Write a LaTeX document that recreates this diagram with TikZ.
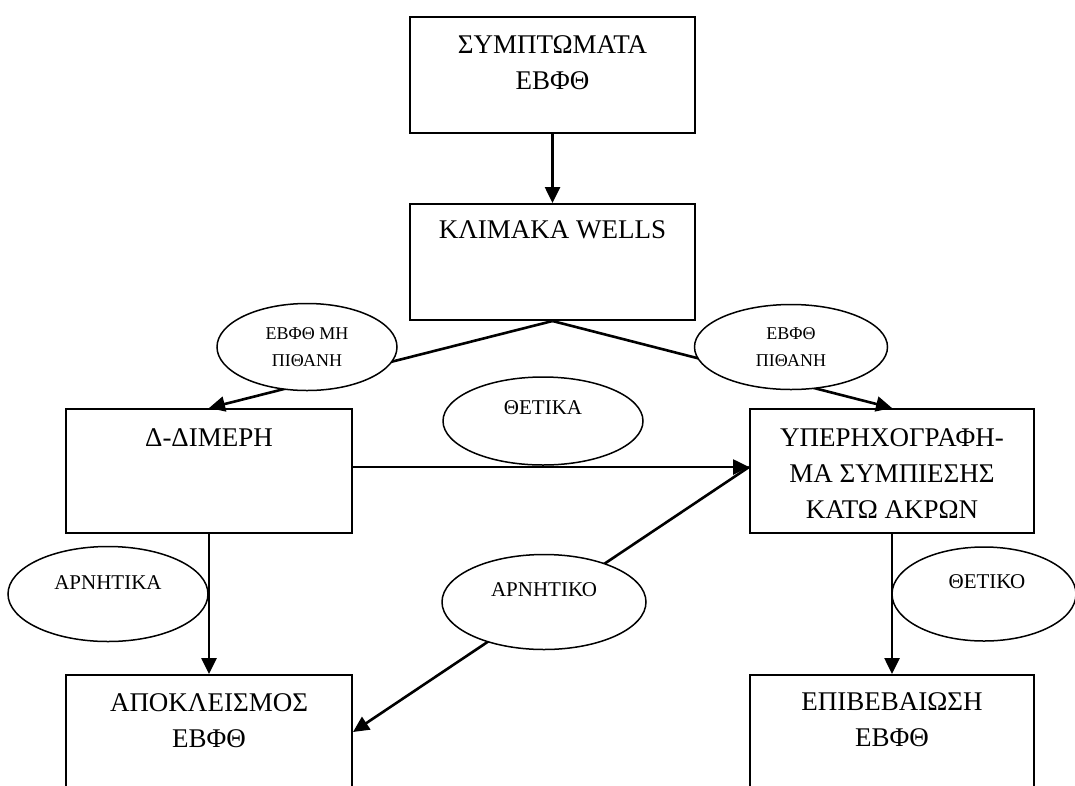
\documentclass[tikz,border=0pt]{standalone}
\usepackage{fontspec}
\setmainfont{Liberation Serif}
\usetikzlibrary{arrows.meta,shapes.geometric}
\tikzset{
  boxn/.style={draw=black, line width=2pt, rectangle, inner sep=0pt},
  boxtxt/.style={anchor=north, inner sep=0pt, align=center, font=\fontsize{27}{36}\selectfont},
  elln/.style={draw=black, line width=1.5pt, ellipse, inner sep=0pt},
  ellw/.style={elln, fill=white},
  elltxt/.style={inner sep=0pt, align=center, font=\fontsize{21}{26}\selectfont},
  elltxts/.style={inner sep=0pt, align=center, font=\fontsize{18}{27}\selectfont},
  conn/.style={line width=2.6pt, -{Triangle[length=16pt,width=15pt]}},
}
\begin{document}
\begin{tikzpicture}[x=1pt,y=-1pt]
\path[use as bounding box] (0,0) rectangle (1075,785);
\clip (0,0) rectangle (1075,785);
\fill[white] (0,0) rectangle (1075,785);

% boxes
\node[boxn, minimum width=285pt, minimum height=116pt] (b1) at (552.5,75) {};
\node[boxn, minimum width=285pt, minimum height=116pt] (b2) at (552.5,262) {};
\node[boxn, minimum width=286pt, minimum height=124pt] (b3) at (209,471) {};
\node[boxn, minimum width=284pt, minimum height=124pt] (b4) at (892,471) {};
\node[boxn, minimum width=286pt, minimum height=124pt] (b5) at (209,737) {};
\node[boxn, minimum width=284pt, minimum height=124pt] (b6) at (892,737) {};

% box texts
\node[boxtxt] (t1) at (552.5,35.5) {ΣΥΜΠΤΩΜΑΤΑ\\ΕΒΦΘ};
\node[boxtxt] (t2) at (552.5,220.5) {ΚΛΙΜΑΚΑ WELLS};
\node[boxtxt] (t3) at (209,428.5) {Δ-ΔΙΜΕΡΗ};
\node[boxtxt] (t4) at (892,428.5) {ΥΠΕΡΗΧΟΓΡΑΦΗ-\\ΜΑ ΣΥΜΠΙΕΣΗΣ\\ΚΑΤΩ ΑΚΡΩΝ};
\node[boxtxt] (t5) at (209,693.5) {ΑΠΟΚΛΕΙΣΜΟΣ\\ΕΒΦΘ};
\node[boxtxt] (t6) at (892,692.5) {ΕΠΙΒΕΒΑΙΩΣΗ\\ΕΒΦΘ};

% unfilled ellipses (beside lines)
\node[elln, minimum width=200pt, minimum height=88pt] (e3) at (543,421) {};
\node[elln, minimum width=200pt, minimum height=95pt] (e4) at (108,594) {};
\node[elln, minimum width=184pt, minimum height=94pt] (e6) at (984,594) {};

% connectors
\draw[conn] (b1.south) -- (b2.north);
\draw[conn] (b2.south) -- (b3.north);
\draw[conn] (b2.south) -- (b4.north);
\draw[conn] ([yshift=4pt]b3.east) -- ([yshift=4pt]b4.west);
\draw[conn] ([yshift=4pt]b4.west) -- ([yshift=5pt]b5.east);
\draw[conn] (b3.south) -- (b5.north);
\draw[conn] (b4.south) -- (b6.north);

% filled ellipses (over lines)
\node[ellw, minimum width=180pt, minimum height=87pt] (e1) at (307,347) {};
\node[ellw, minimum width=193pt, minimum height=85pt] (e2) at (791,347) {};
\node[ellw, minimum width=204pt, minimum height=95pt] (e5) at (544,602) {};

% ellipse texts
\node[elltxts] (l1) at ([yshift=-0.5pt]e1.center) {ΕΒΦΘ ΜΗ\\ΠΙΘΑΝΗ};
\node[elltxts] (l2) at ([yshift=-0.5pt]e2.center) {ΕΒΦΘ\\ΠΙΘΑΝΗ};
\node[elltxt] (l3) at ([yshift=13pt]e3.center) {ΘΕΤΙΚΑ};
\node[elltxt] (l4) at ([yshift=11pt]e4.center) {ΑΡΝΗΤΙΚΑ};
\node[elltxt] (l5) at ([yshift=12pt]e5.center) {ΑΡΝΗΤΙΚΟ};
\node[elltxt] (l6) at ([xshift=3pt,yshift=12pt]e6.center) {ΘΕΤΙΚΟ};
\end{tikzpicture}
\end{document}
